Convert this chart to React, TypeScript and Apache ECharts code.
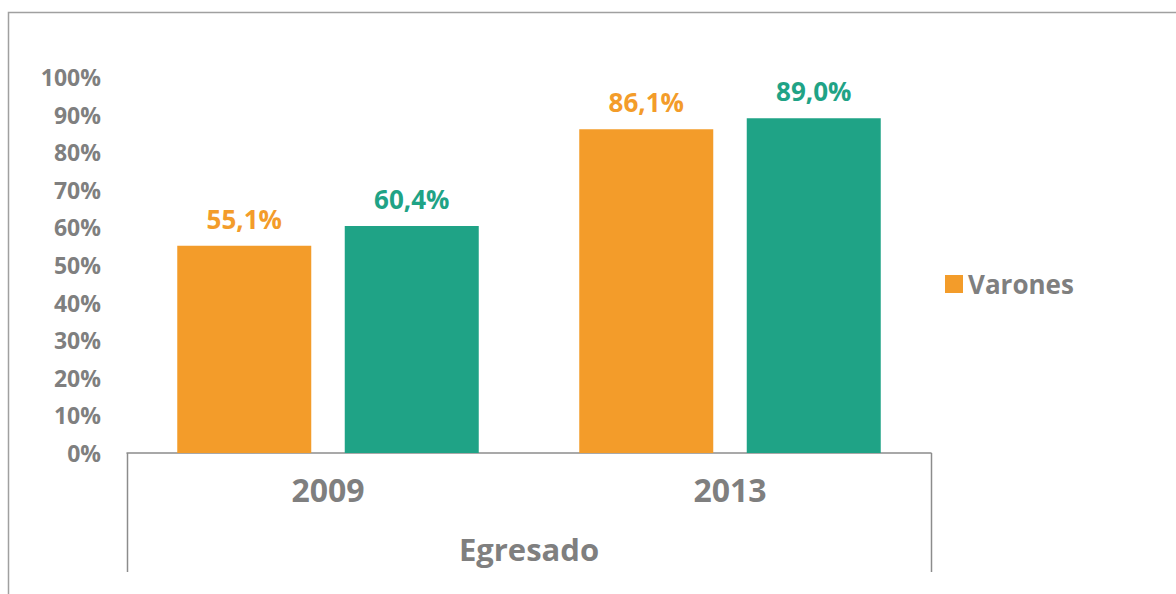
import React, { useEffect, useRef } from "react";
import * as echarts from "echarts";

const categories = ["2009", "2013"];
const groupLabel = "Egresado";
const varones = [55.1, 86.1];
const mujeres = [60.4, 89.0];
const yTicks = [0, 10, 20, 30, 40, 50, 60, 70, 80, 90, 100];

const ORANGE = "#F39C2A";
const TEAL = "#1FA386";
const GRAY = "#7f7f7f";
const FONT = "'Open Sans', sans-serif";

export default function App() {
  const ref = useRef<HTMLDivElement>(null);
  useEffect(() => {
    if (!ref.current) return;
    const chart = echarts.init(ref.current, undefined, { renderer: "svg" });
    const fmt = (v: number) => v.toFixed(1).replace(".", ",") + "%";
    chart.setOption({
      animation: false,
      backgroundColor: "#ffffff",
      textStyle: { fontFamily: FONT },
      grid: { left: 127, right: 245, top: 77, bottom: 141, containLabel: false },
      legend: {
        data: ["Varones"],
        left: 940,
        top: 266,
        icon: "rect",
        itemWidth: 18,
        itemHeight: 18,
        textStyle: { fontSize: 26, fontWeight: "bold", color: GRAY, fontFamily: FONT },
      },
      xAxis: {
        type: "category",
        data: categories,
        name: groupLabel,
        nameLocation: "middle",
        nameGap: 80,
        nameTextStyle: { fontSize: 31, fontWeight: "bold", color: GRAY, fontFamily: FONT },
        axisLine: { lineStyle: { color: "#8c8c8c", width: 1.5 } },
        axisTick: { show: false },
        axisLabel: { margin: 20, fontSize: 32, fontWeight: "bold", color: GRAY, fontFamily: FONT },
      },
      yAxis: {
        type: "value",
        min: yTicks[0],
        max: yTicks[yTicks.length - 1],
        interval: 10,
        axisLine: { show: false },
        axisTick: { show: false },
        splitLine: { show: false },
        axisLabel: {
          margin: 26,
          fontSize: 23,
          fontWeight: "bold",
          color: GRAY,
          fontFamily: FONT,
          formatter: (v: number) => v + "%",
        },
      },
      series: [
        {
          name: "Varones",
          type: "bar",
          data: varones,
          barWidth: 134,
          barGap: "25%",
          itemStyle: { color: ORANGE },
          label: {
            show: true,
            position: "top",
            distance: 14,
            fontSize: 26,
            fontWeight: "bold",
            color: ORANGE,
            fontFamily: FONT,
            formatter: (p: any) => fmt(p.value),
          },
        },
        {
          name: "Mujeres",
          type: "bar",
          data: mujeres,
          barWidth: 134,
          barGap: "25%",
          itemStyle: { color: TEAL },
          label: {
            show: true,
            position: "top",
            distance: 14,
            fontSize: 26,
            fontWeight: "bold",
            color: TEAL,
            fontFamily: FONT,
            formatter: (p: any) => fmt(p.value),
          },
        },
      ],
      graphic: [
        {
          type: "rect",
          shape: { x: 8.5, y: 12.5, width: 1300, height: 800 },
          style: { fill: "none", stroke: "#a0a0a0", lineWidth: 1.5 },
          silent: true,
        },
        {
          type: "line",
          shape: { x1: 127.5, y1: 453, x2: 127.5, y2: 572 },
          style: { stroke: "#8c8c8c", lineWidth: 1.5 },
          silent: true,
        },
        {
          type: "line",
          shape: { x1: 931.5, y1: 453, x2: 931.5, y2: 572 },
          style: { stroke: "#8c8c8c", lineWidth: 1.5 },
          silent: true,
        },
      ],
    });
    return () => chart.dispose();
  }, []);
  return (
    <div
      ref={ref}
      style={{ position: "fixed", left: 0, top: 0, width: 1176, height: 594 }}
    />
  );
}
